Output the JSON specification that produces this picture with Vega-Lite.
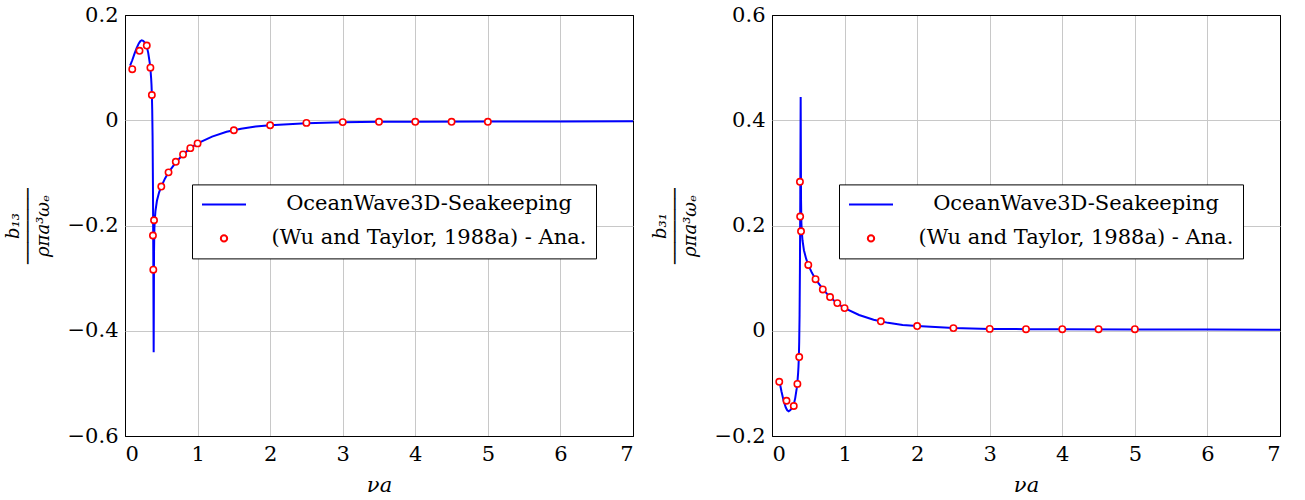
{
  "$schema": "https://vega.github.io/schema/vega-lite/v6.json",
  "padding": {"left": 3, "top": 3, "right": 5, "bottom": 5},
  "spacing": 16,
  "datasets": {
    "b13_line": [
      {"va":0.07,"v":0.104},{"va":0.1,"v":0.114},{"va":0.13,"v":0.126},{"va":0.16,"v":0.137},{"va":0.19,"v":0.146},{"va":0.21,"v":0.15},{"va":0.23,"v":0.152},{"va":0.25,"v":0.151},{"va":0.27,"v":0.148},{"va":0.3,"v":0.14},{"va":0.32,"v":0.128},{"va":0.34,"v":0.11},{"va":0.35,"v":0.098},{"va":0.36,"v":0.08},{"va":0.365,"v":0.068},{"va":0.37,"v":0.05},{"va":0.375,"v":0.02},{"va":0.38,"v":-0.03},{"va":0.385,"v":-0.12},{"va":0.39,"v":-0.26},{"va":0.395,"v":-0.441},{"va":0.398,"v":-0.33},{"va":0.4,"v":-0.25},{"va":0.405,"v":-0.205},{"va":0.41,"v":-0.19},{"va":0.42,"v":-0.172},{"va":0.44,"v":-0.153},{"va":0.47,"v":-0.137},{"va":0.5,"v":-0.126},{"va":0.55,"v":-0.111},{"va":0.6,"v":-0.099},{"va":0.7,"v":-0.08},{"va":0.8,"v":-0.065},{"va":0.9,"v":-0.053},{"va":1.0,"v":-0.044},{"va":1.2,"v":-0.031},{"va":1.4,"v":-0.022},{"va":1.6,"v":-0.016},{"va":1.8,"v":-0.012},{"va":2.0,"v":-0.0095},{"va":2.5,"v":-0.0055},{"va":3.0,"v":-0.0038},{"va":3.5,"v":-0.003},{"va":4.0,"v":-0.0027},{"va":5.0,"v":-0.0025},{"va":6.0,"v":-0.0023},{"va":7.0,"v":-0.002}
    ],
    "b13_ana": [
      {"va":0.1,"v":0.097},{"va":0.2,"v":0.132},{"va":0.3,"v":0.142},{"va":0.35,"v":0.1},{"va":0.37,"v":0.048},{"va":0.385,"v":-0.219},{"va":0.39,"v":-0.284},{"va":0.4,"v":-0.19},{"va":0.5,"v":-0.126},{"va":0.6,"v":-0.099},{"va":0.7,"v":-0.079},{"va":0.8,"v":-0.065},{"va":0.9,"v":-0.053},{"va":1.0,"v":-0.044},{"va":1.5,"v":-0.019},{"va":2.0,"v":-0.0095},{"va":2.5,"v":-0.005},{"va":3.0,"v":-0.0035},{"va":3.5,"v":-0.003},{"va":4.0,"v":-0.003},{"va":4.5,"v":-0.003},{"va":5.0,"v":-0.003}
    ],
    "b31_line": [
      {"va":0.1,"v":-0.094},{"va":0.13,"v":-0.115},{"va":0.16,"v":-0.133},{"va":0.19,"v":-0.146},{"va":0.21,"v":-0.151},{"va":0.23,"v":-0.153},{"va":0.25,"v":-0.151},{"va":0.27,"v":-0.148},{"va":0.3,"v":-0.14},{"va":0.32,"v":-0.128},{"va":0.34,"v":-0.11},{"va":0.35,"v":-0.098},{"va":0.36,"v":-0.08},{"va":0.365,"v":-0.068},{"va":0.37,"v":-0.05},{"va":0.375,"v":-0.02},{"va":0.38,"v":0.03},{"va":0.385,"v":0.12},{"va":0.39,"v":0.26},{"va":0.395,"v":0.444},{"va":0.398,"v":0.33},{"va":0.4,"v":0.25},{"va":0.405,"v":0.205},{"va":0.41,"v":0.19},{"va":0.42,"v":0.172},{"va":0.44,"v":0.153},{"va":0.47,"v":0.137},{"va":0.5,"v":0.125},{"va":0.55,"v":0.11},{"va":0.6,"v":0.098},{"va":0.7,"v":0.079},{"va":0.8,"v":0.064},{"va":0.9,"v":0.052},{"va":1.0,"v":0.043},{"va":1.2,"v":0.03},{"va":1.4,"v":0.021},{"va":1.6,"v":0.015},{"va":1.8,"v":0.011},{"va":2.0,"v":0.009},{"va":2.5,"v":0.005},{"va":3.0,"v":0.0035},{"va":3.5,"v":0.003},{"va":4.0,"v":0.0027},{"va":5.0,"v":0.0025},{"va":6.0,"v":0.0023},{"va":7.0,"v":0.002}
    ],
    "b31_ana": [
      {"va":0.1,"v":-0.097},{"va":0.2,"v":-0.133},{"va":0.3,"v":-0.143},{"va":0.35,"v":-0.101},{"va":0.375,"v":-0.05},{"va":0.385,"v":0.283},{"va":0.388,"v":0.217},{"va":0.4,"v":0.189},{"va":0.5,"v":0.125},{"va":0.6,"v":0.098},{"va":0.7,"v":0.0785},{"va":0.8,"v":0.064},{"va":0.9,"v":0.0525},{"va":1.0,"v":0.043},{"va":1.5,"v":0.018},{"va":2.0,"v":0.009},{"va":2.5,"v":0.005},{"va":3.0,"v":0.0035},{"va":3.5,"v":0.003},{"va":4.0,"v":0.003},{"va":4.5,"v":0.003},{"va":5.0,"v":0.003}
    ]
  },
  "hconcat": [
    {
      "width": 508,
      "height": 421,
      "layer": [
        {
          "data": {"name": "b13_line"},
          "mark": {"type": "line", "strokeWidth": 2, "clip": true},
          "encoding": {
            "x": {"field": "va", "type": "quantitative", "scale": {"domain": [0, 7], "nice": false}, "axis": {"title": "νa", "values": [0,1,2,3,4,5,6,7], "format": "d", "gridColor": {"condition": {"test": "datum.value <= 0.01 || datum.value >= 6.99", "value": "black"}, "value": "#c8c8c8"}}},
            "y": {"field": "v", "type": "quantitative", "scale": {"domain": [-0.6, 0.2], "nice": false, "zero": false}, "axis": {"title": ["b₁₃", "───────", "ρπa³ωₑ"], "values": [-0.6,-0.4,-0.2,0,0.2], "format": ".1~f", "titleFontSize": 18, "titleLineHeight": 15, "titlePadding": 15, "gridColor": {"condition": {"test": "datum.value <= -0.59 || datum.value >= 0.19", "value": "black"}, "value": "#c8c8c8"}}},
            "stroke": {"datum": "OceanWave3D-Seakeeping", "type": "nominal", "scale": {"domain": ["OceanWave3D-Seakeeping", "(Wu and Taylor, 1988a) - Ana."], "range": ["#0000ff", "#ff0000"]}, "legend": {"title": null, "orient": "none", "legendX": 67, "legendY": 169.4, "labelAlign": "center", "labelOffset": 182}}
          }
        },
        {
          "data": {"name": "b13_ana"},
          "mark": {"type": "point", "filled": true, "fill": "white", "strokeWidth": 1.6, "opacity": 1},
          "encoding": {
            "x": {"field": "va", "type": "quantitative"},
            "y": {"field": "v", "type": "quantitative"},
            "stroke": {"datum": "(Wu and Taylor, 1988a) - Ana.", "type": "nominal"},
            "shape": {"datum": "(Wu and Taylor, 1988a) - Ana.", "type": "nominal", "scale": {"domain": ["OceanWave3D-Seakeeping", "(Wu and Taylor, 1988a) - Ana."], "range": ["stroke", "circle"]}, "legend": {"title": null, "orient": "none", "legendX": 67, "legendY": 169.4, "labelAlign": "center", "labelOffset": 182}},
            "size": {"datum": "(Wu and Taylor, 1988a) - Ana.", "type": "nominal", "scale": {"type": "point", "padding": 0, "domain": ["OceanWave3D-Seakeeping", "(Wu and Taylor, 1988a) - Ana."], "range": [1936, 40]}, "legend": {"title": null, "orient": "none", "legendX": 67, "legendY": 169.4, "labelAlign": "center", "labelOffset": 182}}
          }
        }
      ]
    },
    {
      "width": 508,
      "height": 421,
      "layer": [
        {
          "data": {"name": "b31_line"},
          "mark": {"type": "line", "strokeWidth": 2, "clip": true},
          "encoding": {
            "x": {"field": "va", "type": "quantitative", "scale": {"domain": [0, 7], "nice": false}, "axis": {"title": "νa", "values": [0,1,2,3,4,5,6,7], "format": "d", "gridColor": {"condition": {"test": "datum.value <= 0.01 || datum.value >= 6.99", "value": "black"}, "value": "#c8c8c8"}}},
            "y": {"field": "v", "type": "quantitative", "scale": {"domain": [-0.2, 0.6], "nice": false, "zero": false}, "axis": {"title": ["b₃₁", "───────", "ρπa³ωₑ"], "values": [-0.2,0,0.2,0.4,0.6], "format": ".1~f", "titleFontSize": 18, "titleLineHeight": 15, "titlePadding": 15, "gridColor": {"condition": {"test": "datum.value <= -0.19 || datum.value >= 0.59", "value": "black"}, "value": "#c8c8c8"}}},
            "stroke": {"datum": "OceanWave3D-Seakeeping", "type": "nominal", "scale": {"domain": ["OceanWave3D-Seakeeping", "(Wu and Taylor, 1988a) - Ana."], "range": ["#0000ff", "#ff0000"]}, "legend": {"title": null, "orient": "none", "legendX": 67, "legendY": 169.4, "labelAlign": "center", "labelOffset": 182}}
          }
        },
        {
          "data": {"name": "b31_ana"},
          "mark": {"type": "point", "filled": true, "fill": "white", "strokeWidth": 1.6, "opacity": 1},
          "encoding": {
            "x": {"field": "va", "type": "quantitative"},
            "y": {"field": "v", "type": "quantitative"},
            "stroke": {"datum": "(Wu and Taylor, 1988a) - Ana.", "type": "nominal"},
            "shape": {"datum": "(Wu and Taylor, 1988a) - Ana.", "type": "nominal", "scale": {"domain": ["OceanWave3D-Seakeeping", "(Wu and Taylor, 1988a) - Ana."], "range": ["stroke", "circle"]}, "legend": {"title": null, "orient": "none", "legendX": 67, "legendY": 169.4, "labelAlign": "center", "labelOffset": 182}},
            "size": {"datum": "(Wu and Taylor, 1988a) - Ana.", "type": "nominal", "scale": {"type": "point", "padding": 0, "domain": ["OceanWave3D-Seakeeping", "(Wu and Taylor, 1988a) - Ana."], "range": [1936, 40]}, "legend": {"title": null, "orient": "none", "legendX": 67, "legendY": 169.4, "labelAlign": "center", "labelOffset": 182}}
          }
        }
      ]
    }
  ],
  "resolve": {
    "scale": {"stroke": "independent", "shape": "independent", "size": "independent"},
    "legend": {"stroke": "independent", "shape": "independent", "size": "independent"}
  },
  "config": {
    "view": {"stroke": "black", "strokeWidth": 1},
    "axis": {
      "labelFont": "DejaVu Serif", "labelFontSize": 21, "labelColor": "black",
      "titleFont": "DejaVu Serif", "titleFontSize": 21, "titleFontStyle": "italic", "titleFontWeight": "normal", "titleColor": "black",
      "domain": false, "ticks": false, "labelPadding": 7, "titlePadding": 10, "gridWidth": 1
    },
    "legend": {
      "strokeColor": "black", "fillColor": "white", "padding": 9, "cornerRadius": 0,
      "labelFont": "DejaVu Serif", "labelFontSize": 21, "labelColor": "black", "labelLimit": 600,
      "symbolStrokeWidth": 2, "rowPadding": 12, "clipHeight": 22, "symbolOpacity": 1
    }
  }
}
